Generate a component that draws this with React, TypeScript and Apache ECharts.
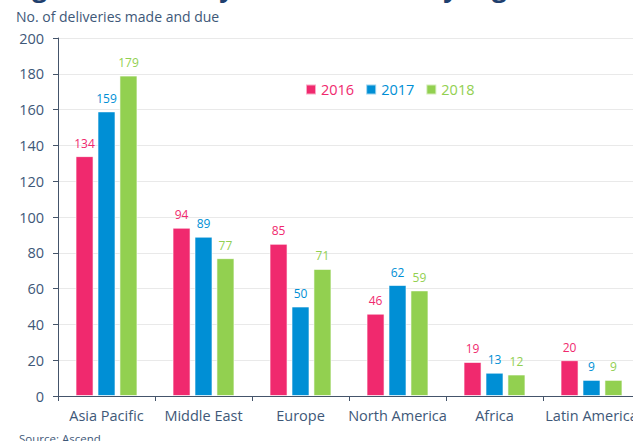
import React, { useEffect, useRef } from "react";
import * as echarts from "echarts";

const categories = ["Asia Pacific", "Middle East", "Europe", "North America", "Africa", "Latin America"];
const years = ["2016", "2017", "2018"];
const values2016 = [134, 94, 85, 46, 19, 20];
const values2017 = [159, 89, 50, 62, 13, 9];
const values2018 = [179, 77, 71, 59, 12, 9];
const yTicks = { min: 0, max: 200, interval: 20 };
const titleText = "Figure 2: Delivery status in 2018 by region";
const subtitleText = "No. of deliveries made and due";
const sourceText = "Source: Ascend";

const colors = ["#F0296E", "#008FD5", "#92D050"];
const axisColor = "#44546A";
const textColor = "#3E5878";
const font = "'Open Sans', 'Noto Sans', sans-serif";

export default function App() {
  const ref = useRef<HTMLDivElement>(null);
  useEffect(() => {
    document.body.style.margin = "0";
    const chart = echarts.init(ref.current!, null, { renderer: "svg" });
    const seriesData = [values2016, values2017, values2018];
    chart.setOption({
      animation: false,
      backgroundColor: "#ffffff",
      legend: {
        left: 300,
        top: 77,
        itemWidth: 10,
        itemHeight: 10,
        itemGap: 11,
        icon: "rect",
        data: years.map((y, i) => ({ name: y, textStyle: { color: colors[i] } })),
        textStyle: { fontSize: 14.5, fontFamily: font },
      },
      grid: { left: 58, top: 38, width: 582, height: 358, containLabel: false, outerBoundsMode: "none" },
      xAxis: {
        type: "category",
        data: categories,
        axisLine: { lineStyle: { color: axisColor, width: 1 } },
        axisTick: { show: true, length: 5, alignWithLabel: false, lineStyle: { color: axisColor } },
        axisLabel: { color: textColor, fontSize: 14.5, fontFamily: font, margin: 12, interval: 0, hideOverlap: false },
      },
      yAxis: {
        type: "value",
        min: yTicks.min,
        max: yTicks.max,
        interval: yTicks.interval,
        axisLine: { show: true, lineStyle: { color: axisColor, width: 1 } },
        axisTick: { show: true, length: 5, lineStyle: { color: axisColor } },
        axisLabel: { color: textColor, fontSize: 14.5, fontFamily: font, margin: 14 },
        splitLine: { show: true, lineStyle: { color: "#E9E9E9", width: 1 } },
      },
      series: years.map((y, i) => ({
        name: y,
        type: "bar",
        data: seriesData[i],
        barWidth: 18,
        barGap: "22%",
        itemStyle: { color: colors[i], borderColor: "rgba(255,255,255,0.6)", borderWidth: 1 },
        label: {
          show: true,
          position: "top",
          distance: 7,
          color: colors[i],
          fontSize: 12,
          fontFamily: font,
        },
      })),
      graphic: [
        {
          type: "text",
          left: 10,
          top: -26,
          style: { text: titleText, fontSize: 26, fontWeight: "bold", fill: "#1F3F6E", fontFamily: font },
        },
        {
          type: "text",
          left: 16,
          top: 9,
          style: { text: subtitleText, fontSize: 14, fill: textColor, fontFamily: font },
        },
        {
          type: "text",
          left: 19,
          top: 432,
          style: { text: sourceText, fontSize: 11.5, fill: textColor, fontFamily: font },
        },
      ],
    });
    return () => chart.dispose();
  }, []);
  return <div ref={ref} style={{ width: 633, height: 441 }} />;
}
